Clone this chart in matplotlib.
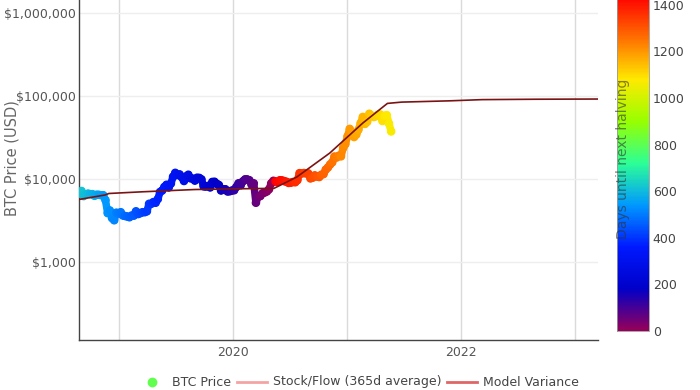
import numpy as np
import pandas as pd
import matplotlib
matplotlib.use('Agg')
import matplotlib.pyplot as plt
import matplotlib.dates as mdates
import matplotlib.ticker as mticker
from matplotlib.colors import LinearSegmentedColormap, Normalize
from matplotlib.collections import LineCollection
from matplotlib.lines import Line2D

# ---------------- data ----------------
price_start = '2018-08-25'   # weekly samples from this date
btc_price = [
    6700, 7200, 6250, 6500, 6700, 6600, 6600, 6300, 6500, 6480, 6400, 6400,
    5600, 3900, 4200, 3400, 3200, 3950, 3850,
    4000, 3650, 3600, 3550, 3480, 3650, 3650, 4100, 3800, 3900, 4000, 4000,
    4100, 5050, 5050, 5300, 5200, 5750, 7000, 7300, 8050, 8550, 7950, 8850,
    10700, 11900, 11200, 11400, 10550, 9500, 10800, 11300, 10230, 10150, 9600,
    10400, 10350, 9950, 8200, 8150, 8300, 7950, 9250, 9300, 8800, 8500, 7300,
    7550, 7550, 7100, 7150, 7300,
    7350, 8050, 8900, 8450, 9400, 9900, 9900, 9700, 8550, 8900, 5200, 6200,
    6250, 6750, 6900, 7100, 7550, 8900, 9550, 9400, 9200, 9700, 9650, 9450,
    9300, 9000, 9070, 9240, 9170, 9700, 11800, 11700, 11850, 11700, 11700,
    10200, 10400, 11100, 10750, 10600, 11300, 11500, 13000, 13800, 15000,
    15950, 18700, 18200, 19150, 18800, 23800, 26400,
    32800, 40200, 36000, 32100, 34300, 39300, 47200, 56000, 46200, 48900,
    61200, 58300, 55900, 57100, 59800, 60000, 50100, 57800, 58900, 46700, 37500,
]

model_dates = ['2018-08-25', '2018-11-16', '2018-11-28', '2019-03-15', '2019-08-31',
               '2020-01-01', '2020-05-11', '2020-07-23', '2020-11-06', '2021-02-20',
               '2021-05-10', '2021-06-25', '2021-11-25', '2022-03-10', '2022-09-01',
               '2023-03-17']
model_values = [5700, 6450, 6720, 7040, 7500,
                7640, 7750, 10600, 20600, 47300,
                81500, 84500, 87500, 90500, 91500,
                92000]

halving_dates = ['2020-05-11', '2024-04-20']
x_range = ['2018-08-25', '2023-03-17']
y_range = [116, 1.43e6]
y_ticks = [1e3, 1e4, 1e5, 1e6]
y_tick_labels = ['$1,000', '$10,000', '$100,000', '$1,000,000']
cbar_range = [0, 1440]
cbar_ticks = [0, 200, 400, 600, 800, 1000, 1200, 1400]
rainbow = ['#96005a', '#0000c8', '#0019ff', '#0098ff', '#2cff96',
           '#97ff00', '#ffea00', '#ff6f00', '#ff0000']
legend_labels = ['BTC Price', 'Stock/Flow (365d average)', 'Model Variance']

# ---------------- derived ----------------
p_dates = pd.date_range(price_start, periods=len(btc_price), freq='7D')
halvings = pd.to_datetime(halving_dates)
days_left = []
for d in p_dates:
    nxt = [h for h in halvings if h > d][0]
    days_left.append((nxt - d).days)
days_left = np.array(days_left)

px = mdates.date2num(p_dates.to_pydatetime())
py = np.array(btc_price, dtype=float)
mx = mdates.date2num(pd.to_datetime(model_dates).to_pydatetime())
my = np.array(model_values, dtype=float)

cmap = LinearSegmentedColormap.from_list('plotly_rainbow', rainbow)
norm = Normalize(vmin=cbar_range[0], vmax=cbar_range[1])

# ---------------- figure ----------------
W, H = 700, 390
fig = plt.figure(figsize=(W / 100, H / 100), dpi=100)
fig.patch.set_facecolor('white')

def fx(p):
    return p / W

def fy(p):
    return 1 - p / H

ax = fig.add_axes([fx(79.3), fy(340), fx(598) - fx(79.3), 1 - fy(340)])
ax.set_yscale('log')
ax.set_xlim(mdates.date2num(pd.to_datetime(x_range[0])), mdates.date2num(pd.to_datetime(x_range[1])))
ax.set_ylim(*y_range)

# price backing line to fill gaps between weekly samples
pts = np.column_stack([px, py])
segs = np.stack([pts[:-1], pts[1:]], axis=1)
seg_days = days_left[:-1]
keep = np.abs(np.diff(days_left)) < 100
lc = LineCollection(segs[keep], colors=cmap(norm(seg_days[keep])), linewidths=5.4,
                    capstyle='round', zorder=3)
ax.add_collection(lc)
sc = ax.scatter(px, py, c=days_left, cmap=cmap, norm=norm, s=38, linewidths=0, zorder=4)

# model line
ax.plot(mx, my, color='#7a1414', lw=1.2, zorder=5)

# grid & axes styling
ax.xaxis.set_major_locator(mdates.YearLocator(1))
ax.xaxis.set_major_formatter(mticker.FuncFormatter(
    lambda v, pos: str(mdates.num2date(v).year) if mdates.num2date(v).year % 2 == 0 else ''))
ax.yaxis.set_major_locator(mticker.FixedLocator(y_ticks))
ax.yaxis.set_major_formatter(mticker.FixedFormatter(y_tick_labels))
ax.yaxis.set_minor_locator(mticker.NullLocator())
ax.xaxis.grid(True, color='#dadada', lw=1.0, zorder=0)
ax.yaxis.grid(True, color='#eeeeee', lw=1.0, zorder=0)
ax.set_axisbelow(True)
for s in ['top', 'right']:
    ax.spines[s].set_visible(False)
for s in ['left', 'bottom']:
    ax.spines[s].set_color('#444444')
    ax.spines[s].set_linewidth(1.0)
ax.tick_params(axis='both', length=0, labelsize=9, labelcolor='#555555')
ax.tick_params(axis='y', pad=2.5)
ax.tick_params(axis='x', pad=4)

fig.text(fx(12), fy(158), 'BTC Price (USD)', rotation=90, ha='center', va='center',
         fontsize=10.5, color='#666666')

# colorbar
cax = fig.add_axes([fx(617), fy(331), fx(648.5) - fx(617), fy(-4.5) - fy(331)])
cb = fig.colorbar(sc, cax=cax, ticks=cbar_ticks)
cb.outline.set_edgecolor('#999999')
cb.outline.set_linewidth(0.6)
cax.tick_params(length=0, labelsize=9, labelcolor='#444444', pad=3)
fig.text(fx(623.5), fy(159), 'Days until next halving', rotation=90, ha='center',
         va='center', fontsize=10, color='#333333', alpha=0.6)

# legend along the bottom edge
ly = fy(382)
fig.add_artist(Line2D([fx(152)], [ly], marker='o', markersize=6, color=cmap(0.56),
                      linestyle='none', transform=fig.transFigure))
fig.text(fx(172), ly, legend_labels[0], ha='left', va='center', fontsize=9, color='#444444')
fig.add_artist(Line2D([fx(237), fx(267)], [ly, ly], color='#f4a3a3', lw=2,
                      transform=fig.transFigure))
fig.text(fx(273), ly, legend_labels[1], ha='left', va='center', fontsize=9, color='#444444')
fig.add_artist(Line2D([fx(447), fx(477)], [ly, ly], color='#e06666', lw=2,
                      transform=fig.transFigure))
fig.text(fx(483), ly, legend_labels[2], ha='left', va='center', fontsize=9, color='#444444')

fig.savefig('out.png', dpi=100)
